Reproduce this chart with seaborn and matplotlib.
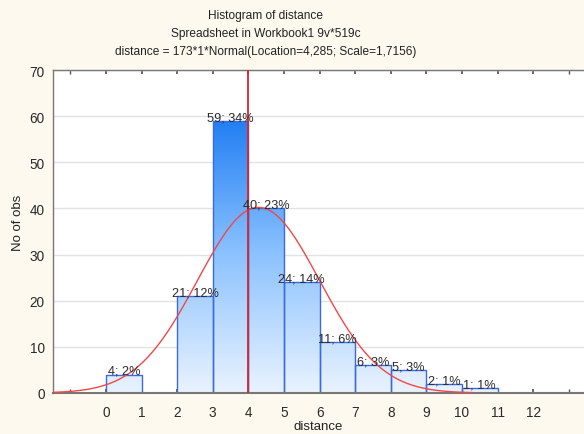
import numpy as np
import pandas as pd
import matplotlib
matplotlib.use("Agg")
import matplotlib.pyplot as plt
import seaborn as sns
from matplotlib.colors import LinearSegmentedColormap

# ---- data ----
bin_left = [0, 1, 2, 3, 4, 5, 6, 7, 8, 9, 10]
counts = [4, 0, 21, 59, 40, 24, 11, 6, 5, 2, 1]
x_ticks = [0, 1, 2, 3, 4, 5, 6, 7, 8, 9, 10, 11, 12]
y_ticks = [0, 10, 20, 30, 40, 50, 60, 70]
fit_n = 173
fit_loc = 4.285
fit_scale = 1.7156
ref_line_x = 4
title_lines = ["Histogram of distance",
               "Spreadsheet in Workbook1 9v*519c",
               "distance = 173*1*Normal(Location=4,285; Scale=1,7156)"]

sns.set_theme(style="white")
plt.rcParams['font.family'] = ['Liberation Sans', 'DejaVu Sans']

bg = "#FDF9EE"
fig = plt.figure(figsize=(5.84, 4.35), dpi=100, facecolor=bg)
ax = fig.add_axes([53/584, (435-394)/435, (584-53)/584, (394-71)/435])
ax.set_facecolor("white")

df = pd.DataFrame({"center": [b + 0.5 for b in bin_left], "n": counts})
edges = [b for b in bin_left] + [bin_left[-1] + 1]
sns.histplot(data=df, x="center", weights="n", bins=edges,
             ax=ax, stat="count", element="bars", fill=True,
             color="#3A6FE0", alpha=1, linewidth=1.0, edgecolor="#3A6AE0")

xmin, xmax = -1.49, 13.43
ax.set_xlim(xmin, xmax)
ax.set_ylim(0, 70)

cmap = LinearSegmentedColormap.from_list("g", ["#EAF3FE", "#8CC2FF", "#1E7DF2"])
grad = np.linspace(0, 1, 256).reshape(-1, 1)
for p in list(ax.patches):
    h = p.get_height()
    if h <= 0:
        p.set_visible(False)
        continue
    p.set_facecolor("none")
    x0 = p.get_x(); w = p.get_width()
    im = ax.imshow(grad, cmap=cmap, vmin=0, vmax=1, origin="lower",
                   extent=(x0, x0 + w, 0, 60), aspect="auto", zorder=1.5,
                   interpolation="bilinear")
    im.set_clip_path(p)
    p.set_zorder(2)
ax.set_xlim(xmin, xmax)
ax.set_ylim(0, 70)

# fitted normal curve
xs = np.linspace(xmin, 10.3, 400)
ys = fit_n * np.exp(-0.5 * ((xs - fit_loc) / fit_scale) ** 2) / (fit_scale * np.sqrt(2 * np.pi))
sns.lineplot(x=xs, y=ys, ax=ax, color="#F04848", linewidth=1.0, zorder=3)
ax.axvline(ref_line_x, color="#E02424", linewidth=1.3, zorder=3.5)

# labels
total = sum(counts)
for b, c in zip(bin_left, counts):
    if c > 0:
        ax.text(b + 0.5, c - 0.5, f"{c}; {int(round(100 * c / total))}%",
                ha="center", va="bottom", fontsize=9.2, color="#2A2A2A", zorder=4)

ax.set_yticks(y_ticks)
ax.set_xticks(x_ticks)
ax.set_xticks(np.arange(-1, 14, 1), minor=True)
ax.yaxis.grid(True, color="#E2E2E2", linewidth=1)
ax.set_axisbelow(True)
ax.tick_params(axis="both", labelsize=9.8, colors="#2A2A2A")
ax.tick_params(axis="x", which="both", direction="in", length=3, top=True,
               bottom=True, color="#555555", pad=9)
ax.tick_params(axis="y", direction="out", length=0, pad=6)
for s in ["left", "bottom", "top"]:
    ax.spines[s].set_color("#777777")
    ax.spines[s].set_linewidth(1)
ax.spines["bottom"].set_linewidth(1.5)
ax.spines["right"].set_visible(False)

ax.set_xlabel("distance", fontsize=9.5, color="#222222")
ax.set_ylabel("No of obs", fontsize=9.5, color="#222222")
ax.xaxis.set_label_coords((318 - 53) / 531, -(427 - 394) / 323)
ax.xaxis.label.set_va("center")
ax.yaxis.set_label_coords(-(53 - 18) / 531, (394 - 223) / 323)
ax.yaxis.label.set_va("center")

for i, t in enumerate(title_lines):
    fig.text(266 / 584, 1 - (16 + 18 * i) / 435, t, ha="center", va="center",
             fontsize=8.6, color="#222222")

fig.savefig("out.png", dpi=100, facecolor=bg)
